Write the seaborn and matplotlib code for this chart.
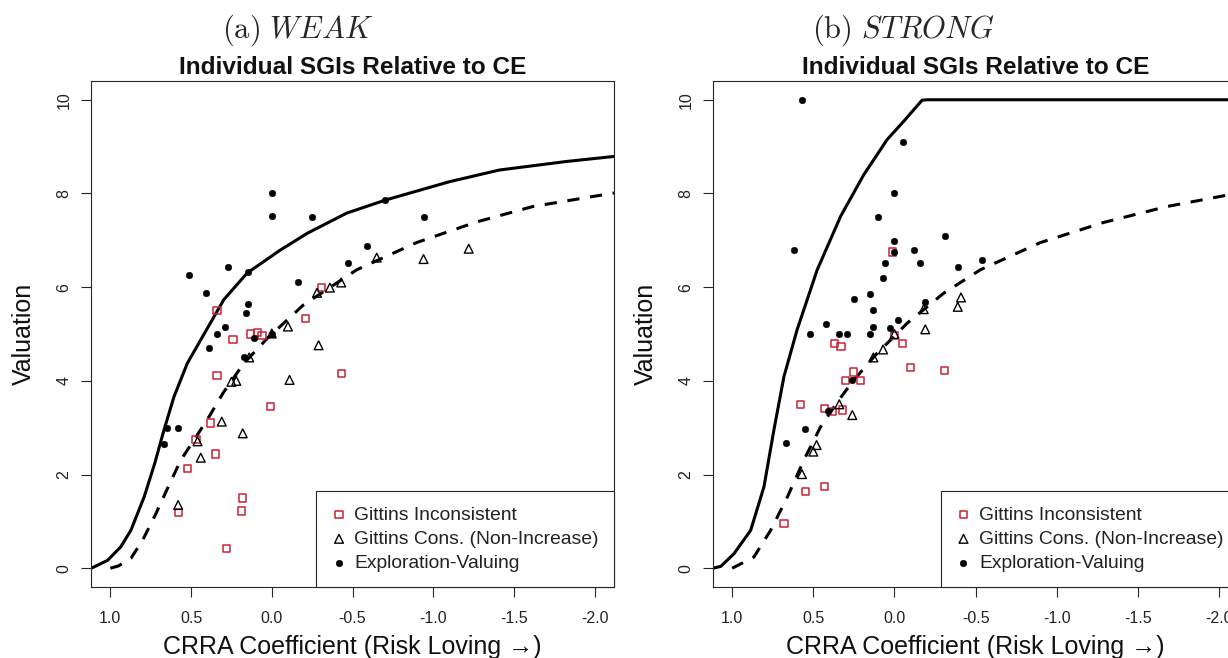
import numpy as np
import pandas as pd
import matplotlib
matplotlib.use("Agg")
import matplotlib.pyplot as plt
import seaborn as sns

# ---------------- data ----------------
# Panel (a) WEAK
a_solid_x = [1.12, 1.10, 1.017, 0.935, 0.873, 0.791, 0.725, 0.668, 0.606, 0.524, 0.441, 0.298, 0.153, -0.052, -0.22, -0.464, -0.705, -1.10, -1.41, -1.82, -2.12]
a_solid_y = [0.0, 0.03, 0.17, 0.46, 0.81, 1.52, 2.24, 2.95, 3.66, 4.37, 4.87, 5.73, 6.30, 6.79, 7.15, 7.58, 7.86, 8.25, 8.50, 8.68, 8.79]
a_dash_x = [1.0, 0.95, 0.873, 0.80, 0.72, 0.64, 0.565, 0.47, 0.386, 0.30, 0.174, 0.03, -0.196, -0.526, -0.896, -1.267, -1.616, -2.12]
a_dash_y = [0.0, 0.05, 0.21, 0.60, 1.15, 1.75, 2.30, 2.80, 3.25, 3.75, 4.37, 4.90, 5.62, 6.37, 6.95, 7.39, 7.72, 8.01]
a_incons_x = [0.34, -0.21, -0.31, 0.13, 0.09, 0.06, 0.24, 0.34, -0.43, 0.01, 0.38, 0.47, 0.35, 0.52, 0.58, 0.18, 0.19, 0.28]
a_incons_y = [5.50, 5.33, 5.99, 5.00, 5.03, 4.96, 4.89, 4.12, 4.16, 3.46, 3.10, 2.75, 2.44, 2.13, 1.19, 1.50, 1.22, 0.42]
a_cons_x = [0.0, -0.10, -0.28, -0.36, -0.43, -0.65, -0.94, -1.22, -0.29, 0.14, -0.11, 0.25, 0.22, 0.31, 0.18, 0.46, 0.44, 0.58]
a_cons_y = [5.01, 5.16, 5.88, 5.99, 6.10, 6.63, 6.60, 6.82, 4.76, 4.50, 4.02, 3.98, 4.00, 3.13, 2.88, 2.71, 2.36, 1.35]
a_expl_x = [0.0, 0.0, -0.25, -0.70, -0.94, -0.59, -0.47, -0.16, 0.51, 0.27, 0.15, 0.41, 0.15, 0.16, 0.29, 0.34, 0.11, 0.39, 0.17, 0.0, 0.65, 0.67, 0.58]
a_expl_y = [8.0, 7.51, 7.50, 7.86, 7.50, 6.88, 6.51, 6.10, 6.25, 6.42, 6.33, 5.88, 5.65, 5.44, 5.14, 5.00, 4.91, 4.71, 4.50, 5.00, 2.99, 2.66, 2.99]

# Panel (b) STRONG
b_solid_x = [1.12, 1.07, 0.989, 0.886, 0.804, 0.743, 0.681, 0.60, 0.476, 0.332, 0.189, 0.045, -0.057, -0.17, -0.20, -2.12]
b_solid_y = [0.0, 0.04, 0.31, 0.81, 1.74, 2.95, 4.09, 5.09, 6.37, 7.51, 8.40, 9.15, 9.54, 9.99, 10.0, 10.0]
b_dash_x = [1.0, 0.866, 0.763, 0.66, 0.558, 0.455, 0.343, 0.25, 0.107, 0.004, -0.078, -0.303, -0.529, -0.898, -1.288, -1.678, -2.12]
b_dash_y = [0.0, 0.24, 0.81, 1.52, 2.31, 3.02, 3.59, 4.02, 4.59, 4.94, 5.23, 5.87, 6.37, 6.95, 7.38, 7.72, 8.01]
b_incons_x = [0.01, 0.37, 0.33, -0.05, -0.10, -0.31, 0.25, 0.30, 0.21, 0.58, 0.43, 0.38, 0.32, 0.43, 0.55, 0.68, 0.0]
b_incons_y = [6.75, 4.80, 4.73, 4.80, 4.29, 4.22, 4.19, 4.00, 4.00, 3.50, 3.41, 3.35, 3.38, 1.75, 1.63, 0.95, 4.97]
b_cons_x = [-0.18, -0.19, -0.41, -0.39, 0.0, 0.07, 0.13, 0.26, 0.34, 0.48, 0.50, 0.57]
b_cons_y = [5.53, 5.10, 5.78, 5.58, 5.00, 4.67, 4.50, 3.27, 3.50, 2.63, 2.49, 2.01]
b_expl_x = [0.57, -0.05, 0.0, 0.10, -0.31, 0.0, 0.62, -0.12, 0.0, -0.39, -0.54, 0.06, -0.16, 0.07, 0.15, 0.25, 0.13, -0.19, 0.42, -0.02, 0.13, 0.03, 0.52, 0.34, 0.29, 0.15, 0.26, 0.41, 0.55, 0.67]
b_expl_y = [10.0, 9.10, 8.0, 7.50, 7.10, 6.99, 6.79, 6.79, 6.75, 6.42, 6.58, 6.51, 6.51, 6.19, 5.85, 5.74, 5.51, 5.68, 5.21, 5.30, 5.16, 5.12, 5.00, 5.00, 5.00, 5.00, 4.02, 3.36, 2.98, 2.68]

x_ticks = [1.0, 0.5, 0.0, -0.5, -1.0, -1.5, -2.0]
x_tick_labels = ["1.0", "0.5", "0.0", "-0.5", "-1.0", "-1.5", "-2.0"]
y_ticks = [0, 2, 4, 6, 8, 10]
y_tick_labels = ["0", "2", "4", "6", "8", "10"]
legend_labels = ["Gittins Inconsistent", "Gittins Cons. (Non-Increase)", "Exploration-Valuing"]
title = "Individual SGIs Relative to CE"
xlabel = "CRRA Coefficient (Risk Loving \u2192)"
ylabel = "Valuation"
captions = [r"$\mathrm{(a)}\ WEAK$", r"$\mathrm{(b)}\ STRONG$"]

# ---------------- style ----------------
sns.set_style("ticks")
plt.rcParams['font.family'] = ['Liberation Sans', 'DejaVu Sans']
plt.rcParams['mathtext.fontset'] = 'cm'

RED = "#cc2233"
EDGE = "#262626"
W, H = 1228, 658

fig = plt.figure(figsize=(W / 100, H / 100), dpi=100)
fig.patch.set_facecolor("white")

def px_axes(left, right, top, bottom):
    return fig.add_axes([left / W, 1 - bottom / H, (right - left) / W, (bottom - top) / H])

ax_a = px_axes(91, 614, 81, 587)
ax_b = px_axes(712.7, 1238.5, 81, 587)


def draw(ax, sx, sy, dx, dy, ix, iy, cx, cy, ex, ey, width_px):
    sns.lineplot(x=sx, y=sy, sort=False, estimator=None, color="black", lw=2.2, ax=ax)
    sns.lineplot(x=dx, y=dy, sort=False, estimator=None, color="black", lw=2.2, ax=ax)
    ax.lines[-1].set_dashes([4, 3.5])
    h1 = sns.scatterplot(x=ix, y=iy, marker="s", s=27, facecolor="none", edgecolor=RED,
                         linewidth=1.1, ax=ax, label=legend_labels[0], zorder=3).collections[-1]
    h2 = sns.scatterplot(x=cx, y=cy, marker="^", s=40, facecolor="none", edgecolor="black",
                         linewidth=1.0, ax=ax, label=legend_labels[1], zorder=3).collections[-1]
    h3 = sns.scatterplot(x=ex, y=ey, marker="o", s=23, color="black", edgecolor="black",
                         linewidth=0.3, ax=ax, label=legend_labels[2], zorder=3).collections[-1]
    ax.set_xlim(1.12, -2.12)
    ax.set_ylim(-0.4, 10.4)
    ax.set_xticks(x_ticks)
    ax.set_xticklabels(x_tick_labels)
    ax.set_yticks(y_ticks)
    ax.set_yticklabels(y_tick_labels, rotation=90, va="center")
    ax.tick_params(axis="both", direction="out", length=7, width=0.8, color=EDGE,
                   labelsize=11.5, labelcolor="#222222")
    ax.tick_params(axis="x", pad=10)
    ax.tick_params(axis="y", pad=7)
    for sp in ax.spines.values():
        sp.set_visible(True)
        sp.set_linewidth(0.8)
        sp.set_color(EDGE)
    ax.set_title(title, fontsize=17.6, fontweight="bold", pad=5.0, color="#111111")
    ax.set_xlabel(xlabel, fontsize=18, color="#111111")
    ax.set_ylabel(ylabel, fontsize=18, color="#111111")
    ax.xaxis.set_label_coords(0.5, (587 - 635) / 506)
    ax.yaxis.set_label_coords(-54.7 / width_px, 0.5)
    leg = ax.legend(handles=[h1, h2, h3], labels=legend_labels, loc="lower right",
                    borderaxespad=0, frameon=True, fancybox=False, framealpha=1,
                    edgecolor=EDGE, fontsize=13.9, handlelength=0.8, handletextpad=0.4,
                    borderpad=0.78, labelspacing=0.34, scatterpoints=1)
    leg.get_frame().set_linewidth(0.8)
    for t in leg.get_texts():
        t.set_color("#222222")


draw(ax_a, a_solid_x, a_solid_y, a_dash_x, a_dash_y, a_incons_x, a_incons_y,
     a_cons_x, a_cons_y, a_expl_x, a_expl_y, 523)
draw(ax_b, b_solid_x, b_solid_y, b_dash_x, b_dash_y, b_incons_x, b_incons_y,
     b_cons_x, b_cons_y, b_expl_x, b_expl_y, 525.8)

fig.text(298 / W, 1 - 30 / H, captions[0], ha="center", va="center", fontsize=22)
fig.text(903 / W, 1 - 30 / H, captions[1], ha="center", va="center", fontsize=22)

fig.savefig("out.png", dpi=100)
